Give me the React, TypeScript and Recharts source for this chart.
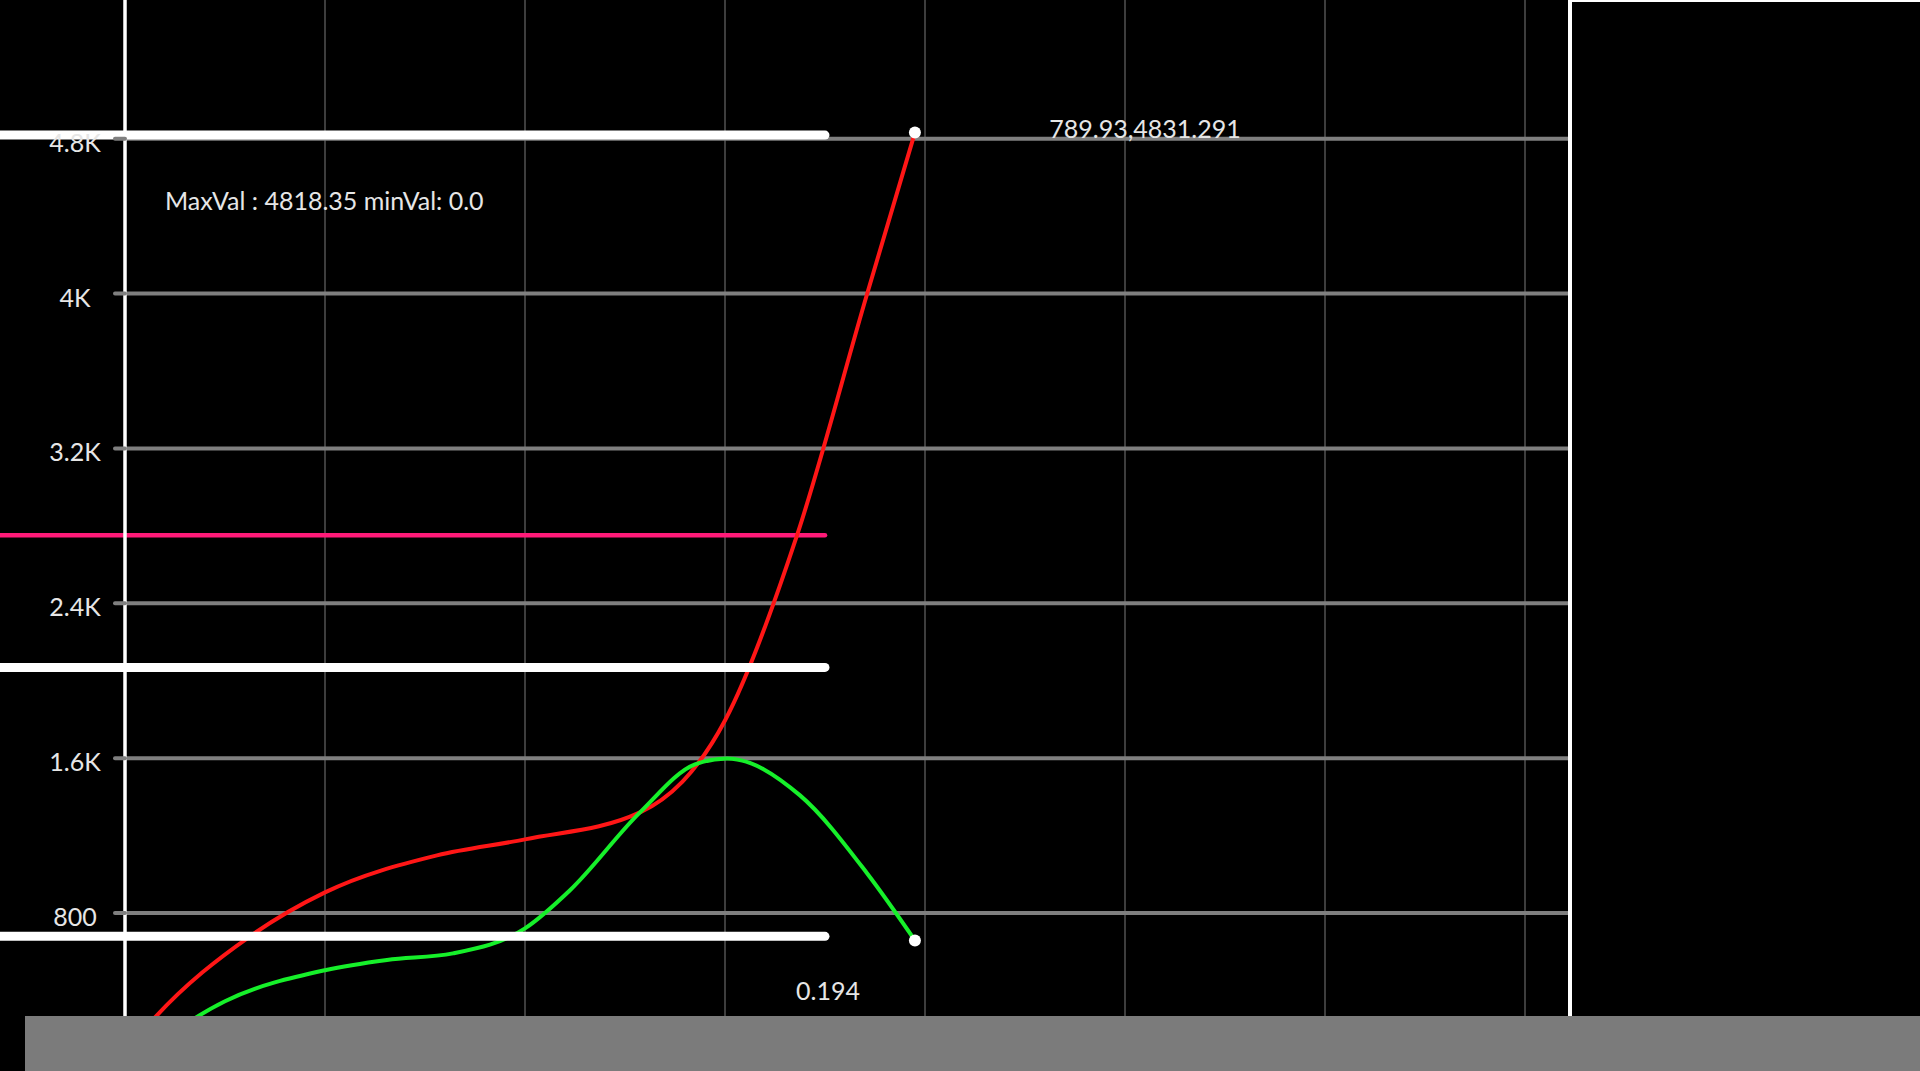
import { LineChart, Line, XAxis, YAxis, CartesianGrid, ReferenceLine, ReferenceDot, Label, Customized } from "recharts";

// series (x in chart units, y in value units)
const redX = [0, 30, 125, 200, 312, 400, 515, 600, 672, 742, 789.93];
const redY = [80, 261, 680, 907, 1098, 1181, 1320, 1795, 2751, 3996, 4831.291];
const greenX = [0, 100, 200, 262, 328, 400, 445, 515, 570, 602, 675, 742, 789.93];
const greenY = [0, 345, 505, 558, 592, 721, 918, 1320, 1568, 1599, 1408, 1006, 659];

const xTicks = [0, 200, 400, 600, 800, 1000, 1200, 1400];
const yTicks = [800, 1600, 2400, 3200, 4000, 4800];

const maxVal = 4818.35;
const minVal = "0.0";
const whiteLevels = [maxVal, 2069, 680];
const pinkLevel = 2752;
const ratioText = "0.194";

const X_MAX = 1445;
const Y_MAX = 5516;
const BAND_FROM = -125;
const BAND_TO = 700;

const TEXT = "#e6e6e6";
const FONT = "Lato";
const FS = 25;

const redData = redX.map((x, i) => ({ x, y: redY[i] }));
const greenData = greenX.map((x, i) => ({ x, y: greenY[i] }));

const fmtTick = (v: number) => (v >= 1000 ? `${v / 1000}K` : `${v}`);

const YTick = ({ x, y, payload }: any) => (
    <text x={x - 38} y={y + 13} textAnchor="middle" fill={TEXT} fontSize={FS} fontFamily={FONT}>
        {fmtTick(payload.value)}
    </text>
);

// only draw grid rows that sit on a tick, not the top edge
const hLine = (props: any) => {
    const { x1, x2, y1, y2, index } = props;
    if (y1 < 2) return <g key={`h-${index}`} />;
    return <line key={`h-${index}`} x1={x1} x2={x2} y1={y1} y2={y2} stroke="#7f7f7f" strokeWidth={4} />;
};

const endDot = (count: number) => (props: any) => {
    const { cx, cy, index } = props;
    if (index !== count - 1) return <g key={`d-${index}`} />;
    return <circle key={`d-${index}`} cx={cx} cy={cy} r={6} fill="#ffffff" />;
};

export default function App() {
    const lastRed = redData[redData.length - 1];

    return (
        <div style={{ position: "absolute", left: 0, top: 0, width: 1920, height: 1071, background: "#000", overflow: "hidden" }}>
            <LineChart width={1572} height={1068} margin={{ top: 0, right: 2, bottom: 0, left: 0 }}>
                <CartesianGrid horizontal={false} stroke="#7a7a7a" strokeWidth={1} />
                <CartesianGrid vertical={false} horizontal={hLine} />
                <XAxis type="number" dataKey="x" domain={[0, X_MAX]} ticks={xTicks} hide />
                <YAxis
                    type="number"
                    domain={[0, Y_MAX]}
                    ticks={yTicks}
                    width={125}
                    tickSize={10}
                    tickLine={{ stroke: "#7f7f7f", strokeWidth: 4, strokeLinecap: "round" }}
                    axisLine={{ stroke: "#ffffff", strokeWidth: 3.5 }}
                    tick={<YTick />}
                />

                <ReferenceLine
                    segment={[{ x: BAND_FROM, y: pinkLevel }, { x: BAND_TO, y: pinkLevel }]}
                    stroke="#ff1a78"
                    strokeWidth={4.5}
                    strokeLinecap="round"
                    ifOverflow="visible"
                />

                <Line data={redData} dataKey="y" type="monotone" stroke="#ff1616" strokeWidth={4}
                    dot={endDot(redData.length)} activeDot={false} isAnimationActive={false} />
                <Line data={greenData} dataKey="y" type="monotone" stroke="#16f02a" strokeWidth={4}
                    dot={endDot(greenData.length)} activeDot={false} isAnimationActive={false} />

                {whiteLevels.map((v) => (
                    <ReferenceLine
                        key={v}
                        segment={[{ x: BAND_FROM, y: v }, { x: BAND_TO, y: v }]}
                        stroke="#ffffff"
                        strokeWidth={9}
                        strokeLinecap="round"
                        ifOverflow="visible"
                    />
                ))}

                <ReferenceLine x={X_MAX} stroke="#ffffff" strokeWidth={4} ifOverflow="visible" />

                <ReferenceDot x={1020} y={4850} r={0} fill="none" stroke="none" ifOverflow="visible">
                    <Label value={`${lastRed.x},${lastRed.y}`} position="center" fill={TEXT} fontSize={FS} fontFamily={FONT} />
                </ReferenceDot>
                <ReferenceDot x={703} y={398} r={0} fill="none" stroke="none" ifOverflow="visible">
                    <Label value={ratioText} position="center" fill={TEXT} fontSize={FS} fontFamily={FONT} />
                </ReferenceDot>

                <Customized
                    component={() => (
                        <text x={165} y={210} fill={TEXT} fontSize={FS} fontFamily={FONT}>
                            {`MaxVal : ${maxVal} minVal: ${minVal}`}
                        </text>
                    )}
                />
            </LineChart>
            <div style={{ position: "absolute", left: 1572, top: 0, width: 348, height: 2, background: "#fff" }} />
            <div style={{ position: "absolute", left: 25, top: 1016, width: 1895, height: 55, background: "#7b7b7b" }} />
        </div>
    );
}
